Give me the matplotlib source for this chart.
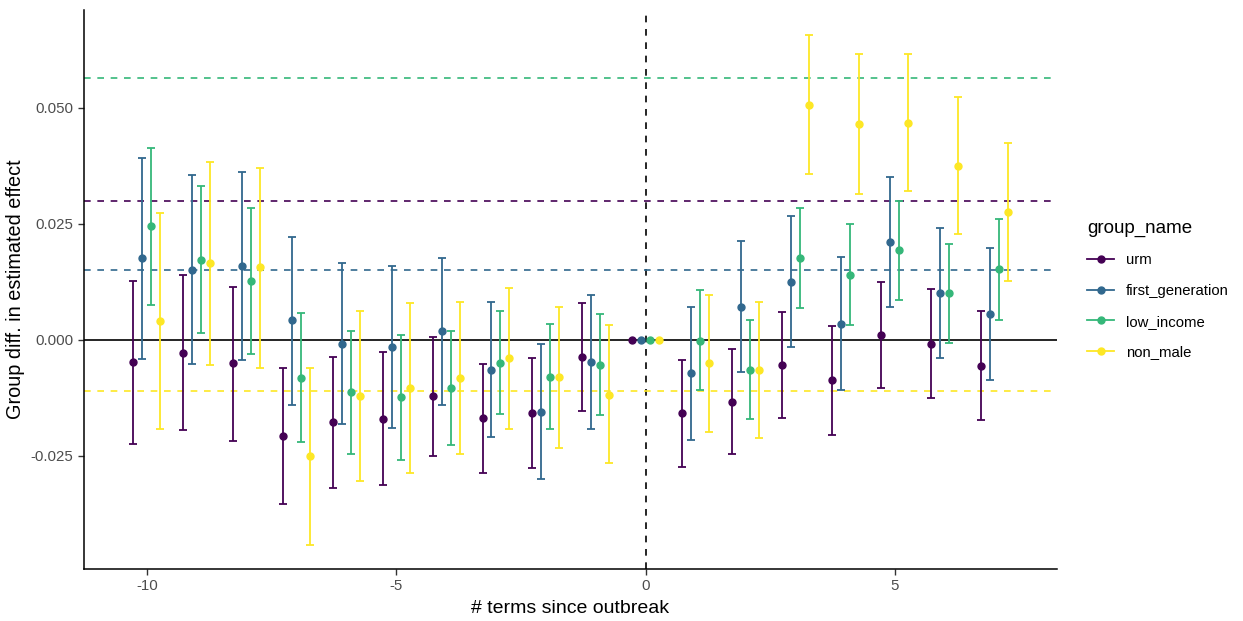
import numpy as np
from matplotlib import pyplot as plt
from matplotlib.lines import Line2D

plt.rcParams['font.family'] = ['Liberation Sans', 'DejaVu Sans']

terms = [-10, -9, -8, -7, -6, -5, -4, -3, -2, -1, 0, 1, 2, 3, 4, 5, 6, 7]
groups = ['urm', 'first_generation', 'low_income', 'non_male']
colors = {'urm': '#440154', 'first_generation': '#31688E',
          'low_income': '#35B779', 'non_male': '#FDE725'}

# point estimates
est = {
    'urm': [-0.0047, -0.0028, -0.0050, -0.0207, -0.0177, -0.0170, -0.0122, -0.0168, -0.0157,
            -0.0037, 0.0, -0.0157, -0.0134, -0.0054, -0.0086, 0.0011, -0.0009, -0.0056],
    'first_generation': [0.0177, 0.0151, 0.0159, 0.0043, -0.0009, -0.0015, 0.0019, -0.0065, -0.0155,
                         -0.0047, 0.0, -0.0071, 0.0071, 0.0125, 0.0034, 0.0211, 0.0101, 0.0056],
    'low_income': [0.0246, 0.0172, 0.0127, -0.0082, -0.0112, -0.0123, -0.0103, -0.0050, -0.0080,
                   -0.0054, 0.0, -0.0002, -0.0065, 0.0177, 0.0140, 0.0194, 0.0101, 0.0153],
    'non_male': [0.0041, 0.0166, 0.0157, -0.0250, -0.0121, -0.0103, -0.0082, -0.0039, -0.0080,
                 -0.0118, 0.0, -0.0050, -0.0065, 0.0506, 0.0465, 0.0468, 0.0375, 0.0276],
}
# upper confidence bounds
upper = {
    'urm': [0.0127, 0.0140, 0.0114, -0.0060, -0.0037, -0.0026, 0.0007, -0.0052, -0.0039,
            0.0080, 0.0, -0.0043, -0.0019, 0.0060, 0.0030, 0.0125, 0.0110, 0.0062],
    'first_generation': [0.0392, 0.0356, 0.0362, 0.0222, 0.0166, 0.0160, 0.0177, 0.0082, -0.0009,
                         0.0097, 0.0, 0.0071, 0.0213, 0.0267, 0.0179, 0.0351, 0.0241, 0.0198],
    'low_income': [0.0414, 0.0332, 0.0284, 0.0058, 0.0019, 0.0011, 0.0019, 0.0062, 0.0034,
                   0.0056, 0.0, 0.0108, 0.0043, 0.0284, 0.0250, 0.0300, 0.0207, 0.0261],
    'non_male': [0.0274, 0.0384, 0.0371, -0.0060, 0.0062, 0.0080, 0.0082, 0.0112, 0.0071,
                 0.0032, 0.0, 0.0097, 0.0082, 0.0657, 0.0616, 0.0616, 0.0524, 0.0425],
}
# lower confidence bounds
lower = {
    'urm': [-0.0224, -0.0194, -0.0218, -0.0353, -0.0319, -0.0312, -0.0250, -0.0287, -0.0276,
            -0.0153, 0.0, -0.0274, -0.0246, -0.0168, -0.0205, -0.0103, -0.0125, -0.0172],
    'first_generation': [-0.0041, -0.0052, -0.0043, -0.0140, -0.0181, -0.0190, -0.0140, -0.0209, -0.0300,
                         -0.0192, 0.0, -0.0216, -0.0069, -0.0015, -0.0108, 0.0071, -0.0039, -0.0086],
    'low_income': [0.0075, 0.0015, -0.0030, -0.0220, -0.0246, -0.0259, -0.0226, -0.0159, -0.0192,
                   -0.0162, 0.0, -0.0108, -0.0170, 0.0069, 0.0032, 0.0086, -0.0006, 0.0043],
    'non_male': [-0.0192, -0.0054, -0.0060, -0.0442, -0.0304, -0.0287, -0.0246, -0.0192, -0.0233,
                 -0.0265, 0.0, -0.0198, -0.0211, 0.0358, 0.0315, 0.0321, 0.0228, 0.0127],
}
# group-level reference lines
ref = {'urm': 0.0300, 'first_generation': 0.0151, 'low_income': 0.0565, 'non_male': -0.0110}

dodge = {'urm': -0.27, 'first_generation': -0.09, 'low_income': 0.09, 'non_male': 0.27}

fig = plt.figure(figsize=(12.43, 6.21), dpi=100)
ax = fig.add_axes([0.0676, 0.0837, 0.7824, 0.9003])

ax.axhline(0, color='black', lw=1.2, zorder=1)
ax.axvline(0, color='black', lw=1.2, ls=(0, (4, 4)), zorder=1)
for g in groups:
    ax.axhline(ref[g], color=colors[g], lw=1.2, ls=(0, (4, 4)), zorder=1)

for g in groups:
    x = np.array(terms) + dodge[g]
    y = np.array(est[g])
    lo = np.array(lower[g])
    hi = np.array(upper[g])
    keep = np.array(terms) != 0
    ax.errorbar(x[keep], y[keep], yerr=[y[keep] - lo[keep], hi[keep] - y[keep]],
                fmt='none', ecolor=colors[g], elinewidth=1.3, capsize=2.6,
                capthick=1.3, zorder=2)
    ax.plot(x, y, 'o', color=colors[g], ms=5, zorder=3)

ax.set_xlim(-11.26, 8.24)
ax.set_ylim(-0.0494, 0.0711)
ax.set_xticks([-10, -5, 0, 5])
ax.set_xticklabels(['-10', '-5', '0', '5'])
ax.set_yticks([-0.025, 0.0, 0.025, 0.05])
ax.set_yticklabels(['-0.025', '0.000', '0.025', '0.050'])
for s in ['top', 'right']:
    ax.spines[s].set_visible(False)
for s in ['left', 'bottom']:
    ax.spines[s].set_linewidth(1.1)
ax.tick_params(labelsize=10.8, length=4, width=1.0, colors='#333333',
               labelcolor='#4D4D4D')
ax.set_xlabel('# terms since outbreak', fontsize=14, labelpad=5)
ax.set_ylabel('Group diff. in estimated effect', fontsize=14.3, labelpad=4)

handles = [Line2D([], [], color=colors[g], marker='o', ms=5, lw=1.3) for g in groups]
leg = fig.legend(handles, groups, loc='upper left', bbox_to_anchor=(0.864, 0.668),
                 frameon=False, title='group_name', fontsize=10.7, title_fontsize=13.5,
                 handlelength=1.8, labelspacing=1.12, alignment='left')

fig.savefig('out.png', dpi=100)
